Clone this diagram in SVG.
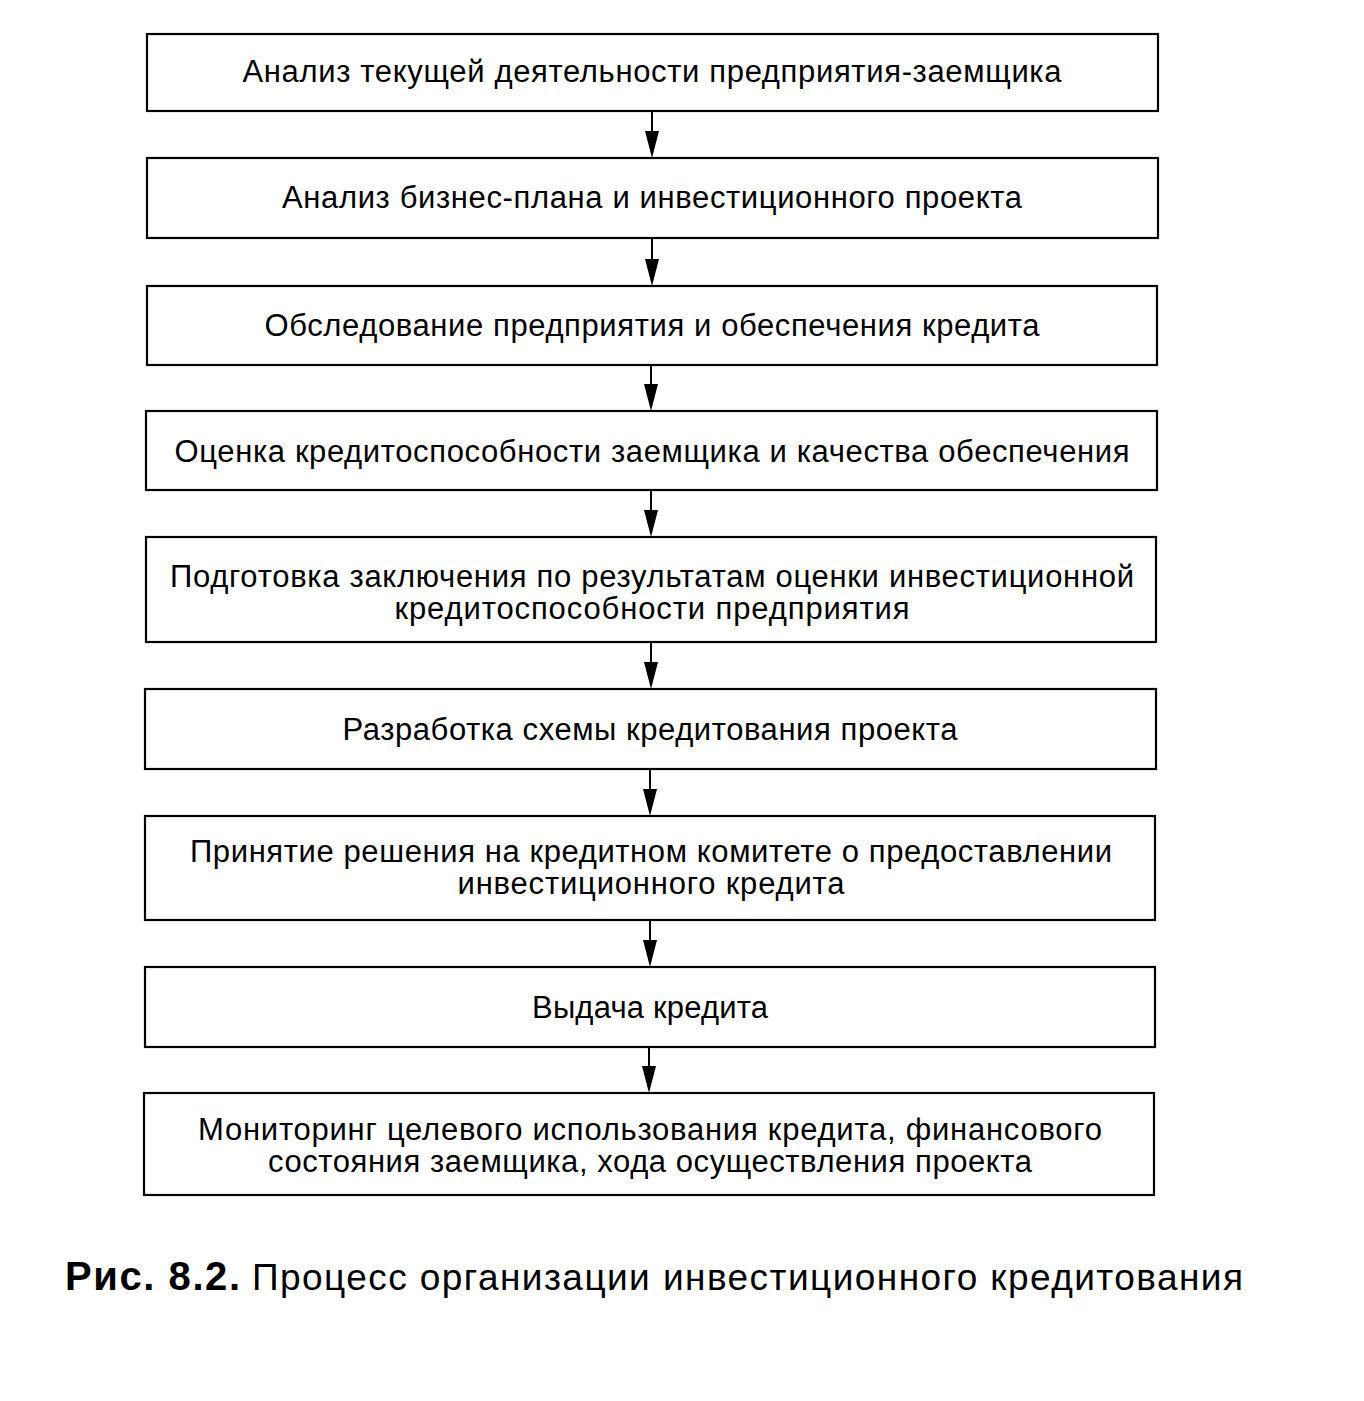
<svg xmlns="http://www.w3.org/2000/svg" width="1364" height="1401" viewBox="0 0 1364 1401">
<defs>
<style>
.box{fill:#fff;stroke:#000;stroke-width:2.2}
.t{font-family:"Liberation Sans",Arial,sans-serif;font-size:31px;fill:#000;text-anchor:middle}
.c{stroke:#000;stroke-width:2;fill:none}
.h{fill:#000}
.cap{font-family:"Liberation Sans",Arial,sans-serif;font-size:37px;fill:#000}
</style>
</defs>
<rect width="1364" height="1401" fill="#fff"/>
<g id="connectors">
<line class="c" x1="652" y1="111" x2="652" y2="140"/><polygon class="h" points="645,131 659,131 652,158"/>
<line class="c" x1="652" y1="238" x2="652" y2="268"/><polygon class="h" points="645,259 659,259 652,286"/>
<line class="c" x1="651" y1="365" x2="651" y2="393"/><polygon class="h" points="644,384 658,384 651,411"/>
<line class="c" x1="651" y1="490" x2="651" y2="519"/><polygon class="h" points="644,510 658,510 651,537"/>
<line class="c" x1="651" y1="642" x2="651" y2="671"/><polygon class="h" points="644,662 658,662 651,689"/>
<line class="c" x1="650" y1="769" x2="650" y2="798"/><polygon class="h" points="643,789 657,789 650,816"/>
<line class="c" x1="650" y1="920" x2="650" y2="949"/><polygon class="h" points="643,940 657,940 650,967"/>
<line class="c" x1="649" y1="1047" x2="649" y2="1075"/><polygon class="h" points="642,1066 656,1066 649,1093"/>
</g>
<g id="n1"><rect class="box" x="147" y="34" width="1011" height="77"/>
<text class="t" x="652" y="82" textLength="819">Анализ текущей деятельности предприятия-заемщика</text></g>
<g id="n2"><rect class="box" x="147" y="158" width="1011" height="80"/>
<text class="t" x="652" y="208" textLength="740">Анализ бизнес-плана и инвестиционного проекта</text></g>
<g id="n3"><rect class="box" x="147" y="286" width="1010" height="79"/>
<text class="t" x="652" y="336" textLength="775">Обследование предприятия и обеспечения кредита</text></g>
<g id="n4"><rect class="box" x="146" y="411" width="1011" height="79"/>
<text class="t" x="652" y="462" textLength="955">Оценка кредитоспособности заемщика и качества обеспечения</text></g>
<g id="n5"><rect class="box" x="146" y="537" width="1010" height="105"/>
<text class="t" x="652" y="587" textLength="964">Подготовка заключения по результатам оценки инвестиционной</text>
<text class="t" x="652" y="619" textLength="515">кредитоспособности предприятия</text></g>
<g id="n6"><rect class="box" x="145" y="689" width="1011" height="80"/>
<text class="t" x="650" y="740" textLength="615">Разработка схемы кредитования проекта</text></g>
<g id="n7"><rect class="box" x="145" y="816" width="1010" height="104"/>
<text class="t" x="651" y="862" textLength="922">Принятие решения на кредитном комитете о предоставлении</text>
<text class="t" x="651" y="894" textLength="387">инвестиционного кредита</text></g>
<g id="n8"><rect class="box" x="145" y="967" width="1010" height="80"/>
<text class="t" x="650" y="1018" textLength="236">Выдача кредита</text></g>
<g id="n9"><rect class="box" x="144" y="1093" width="1010" height="102"/>
<text class="t" x="650" y="1140" textLength="904">Мониторинг целевого использования кредита, финансового</text>
<text class="t" x="650" y="1172" textLength="764">состояния заемщика, хода осуществления проекта</text></g>
<text class="cap" x="65" y="1290"><tspan font-weight="bold" font-size="40" textLength="175">Рис. 8.2.</tspan><tspan x="252" textLength="991">Процесс организации инвестиционного кредитования</tspan></text>
</svg>
